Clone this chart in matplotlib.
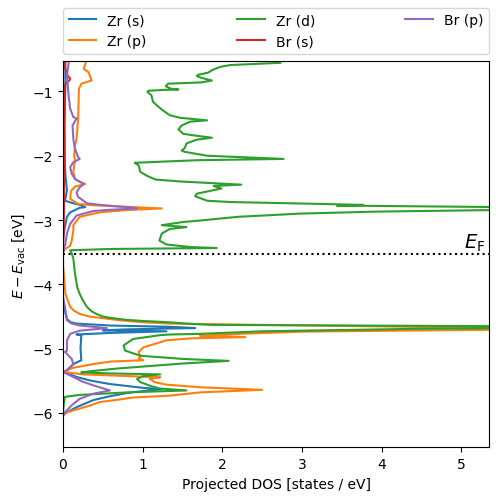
import matplotlib
matplotlib.use("Agg")
import matplotlib.pyplot as plt
import numpy as np

# Fermi level, eV relative to vacuum
e_fermi = -3.535

# projected DOS: (energy, states/eV) per orbital
zr_s_energy = [-0.53, -0.9, -1.5, -2.0, -2.3, -2.54, -2.70, -2.74, -2.77, -2.80, -2.81, -2.88, -2.95,
               -3.10, -3.3, -4.2, -4.30, -4.45, -4.54, -4.59, -4.61, -4.64, -4.66, -4.68, -4.70,
               -4.715, -4.73, -4.755, -4.78, -4.79, -5.00, -5.18, -5.24, -5.34, -5.37, -5.44,
               -5.50, -5.55, -5.61, -5.63, -5.66, -5.69, -5.75, -5.80, -5.91, -5.99, -6.03]
zr_s_dos = [0.03, 0.03, 0.02, 0.02, 0.03, 0.05, 0.025, 0.13, 0.23, 0.28, 0.21, 0.09, 0.05,
            0.025, 0.0, 0.0, 0.01, 0.03, 0.05, 0.10, 0.17, 0.59, 1.34, 1.66, 0.8,
            0.5, 1.3, 0.6, 0.17, 0.23, 0.22, 0.23, 0.13, 0.05, 0.03, 0.17,
            0.36, 0.59, 1.01, 1.24, 1.0, 0.8, 0.55, 0.38, 0.17, 0.05, 0.0]

zr_p_energy = [-0.53, -0.57, -0.65, -0.70, -0.83, -0.88, -0.96, -1.42, -1.74, -1.84, -2.00, -2.07,
               -2.25, -2.36, -2.40, -2.44, -2.48, -2.55, -2.67, -2.75, -2.77, -2.80, -2.82, -2.845,
               -2.88, -2.95, -3.08, -3.16, -3.32, -3.40, -3.45, -3.5, -3.7, -3.83, -4.15, -4.35,
               -4.41, -4.46, -4.50, -4.52, -4.56, -4.59, -4.61, -4.63, -4.67, -4.69, -4.71, -4.735,
               -4.78, -4.80, -4.82, -4.84, -4.87, -4.98, -5.05, -5.13, -5.15, -5.18, -5.20, -5.24,
               -5.30, -5.36, -5.40, -5.43, -5.445, -5.47, -5.52, -5.56, -5.60, -5.64, -5.68,
               -5.73, -5.76, -5.80, -5.83, -5.88, -5.96, -6.0, -6.05]
zr_p_dos = [0.29, 0.28, 0.26, 0.32, 0.36, 0.23, 0.20, 0.19, 0.17, 0.15, 0.14, 0.15,
            0.13, 0.15, 0.20, 0.28, 0.15, 0.10, 0.09, 0.19, 0.38, 0.9, 1.24, 0.8,
            0.46, 0.21, 0.13, 0.13, 0.11, 0.09, 0.03, 0.0, 0.0, 0.01, 0.03, 0.09,
            0.14, 0.21, 0.33, 0.46, 0.72, 1.01, 1.34, 2.47, 5.0, 8.0, 5.0, 3.0,
            2.0, 1.72, 2.29, 1.6, 1.30, 1.01, 0.95, 0.97, 0.95, 1.01, 0.6, 0.38,
            0.12, 0.0, 0.25, 0.9, 1.22, 1.09, 1.15, 1.30, 1.72, 2.50, 1.72,
            1.34, 0.88, 0.65, 0.46, 0.35, 0.13, 0.025, 0.0]

zr_d_energy = [-0.555, -0.59, -0.62, -0.67, -0.71, -0.74, -0.76, -0.79, -0.83, -0.86, -0.88, -0.92,
               -0.96, -0.97, -0.975, -0.99, -1.01, -1.06, -1.16, -1.22, -1.30, -1.37, -1.41, -1.45,
               -1.47, -1.53, -1.59, -1.66, -1.69, -1.72, -1.75, -1.81, -1.88, -1.92, -1.94, -2.00,
               -2.05, -2.07, -2.11, -2.15, -2.25, -2.31, -2.37, -2.40, -2.45, -2.47, -2.51, -2.59,
               -2.63, -2.70, -2.72, -2.755, -2.765, -2.775, -2.80, -2.82, -2.845, -2.87, -2.90,
               -2.95, -3.01, -3.03, -3.08, -3.11, -3.14, -3.21, -3.32, -3.38, -3.42, -3.435, -3.45,
               -3.47, -3.52, -3.60, -3.83, -4.05, -4.15, -4.25, -4.35, -4.42, -4.46, -4.50, -4.52,
               -4.55, -4.57, -4.59, -4.61, -4.63, -4.65, -4.665, -4.69, -4.73, -4.77, -4.78, -4.79,
               -4.85, -4.95, -5.03, -5.11, -5.16, -5.19, -5.23, -5.31, -5.35, -5.37, -5.385,
               -5.40, -5.43, -5.47, -5.52, -5.58, -5.62, -5.65, -5.68, -5.72, -5.75, -5.86, -6.0]
zr_d_dos = [2.73, 2.10, 1.97, 1.87, 1.82, 1.70, 1.68, 1.74, 1.87, 1.74, 1.32, 1.29,
            1.36, 1.45, 1.30, 1.07, 1.06, 1.11, 1.13, 1.18, 1.26, 1.34, 1.47, 1.81,
            1.60, 1.49, 1.45, 1.51, 1.68, 1.87, 1.68, 1.55, 1.53, 1.49, 1.53, 1.81,
            2.77, 1.68, 0.90, 0.95, 0.97, 1.05, 1.16, 1.47, 2.24, 1.89, 1.99, 1.68,
            1.66, 1.81, 2.10, 3.44, 3.77, 3.44, 5.6, 7.0, 5.4, 3.9, 2.98,
            2.2, 1.70, 1.51, 1.24, 1.55, 1.34, 1.24, 1.21, 1.30, 1.60, 1.93, 0.6,
            0.09, 0.11, 0.13, 0.15, 0.18, 0.21, 0.25, 0.30, 0.36, 0.42, 0.50, 0.59,
            0.78, 1.01, 1.34, 1.55, 1.85, 5.4, 7.0, 4.5, 2.5, 1.72, 1.34, 1.22,
            0.88, 0.76, 0.78, 0.97, 1.51, 2.08, 1.51, 0.67, 0.35, 0.23, 0.6,
            1.22, 1.0, 0.93, 0.97, 1.1, 1.22, 1.55, 0.8, 0.2, 0.025, 0.01, 0.0]

br_s_energy = [-0.53, -0.62, -0.76, -0.80, -0.83, -0.88, -1.0, -1.5, -2.0, -2.5, -3.0, -3.3, -3.5]
br_s_dos = [0.02, 0.02, 0.06, 0.09, 0.08, 0.03, 0.02, 0.015, 0.02, 0.015, 0.01, 0.005, 0.0]

br_p_energy = [-0.53, -0.57, -0.75, -1.06, -1.27, -1.40, -1.42, -1.53, -1.74, -1.89, -2.02, -2.05,
               -2.10, -2.18, -2.28, -2.36, -2.44, -2.49, -2.57, -2.64, -2.74, -2.77, -2.80, -2.82,
               -2.84, -2.86, -2.93, -3.06, -3.21, -3.37, -3.5, -4.2, -4.35, -4.56, -4.61, -4.64,
               -4.68, -4.72, -4.77, -4.87, -5.03, -5.05, -5.16, -5.24, -5.31, -5.37, -5.44, -5.51,
               -5.57, -5.65, -5.70, -5.78, -5.88, -5.99, -6.05]
br_p_dos = [0.07, 0.07, 0.05, 0.07, 0.09, 0.13, 0.17, 0.12, 0.13, 0.15, 0.19, 0.21,
            0.13, 0.09, 0.11, 0.15, 0.26, 0.21, 0.17, 0.19, 0.30, 0.51, 0.8, 0.93,
            0.6, 0.38, 0.17, 0.09, 0.05, 0.03, 0.0, 0.0, 0.025, 0.05, 0.11, 0.21,
            0.55, 0.21, 0.09, 0.05, 0.05, 0.025, 0.11, 0.13, 0.07, 0.01, 0.13, 0.24,
            0.38, 0.59, 0.38, 0.21, 0.11, 0.025, 0.0]

series = [("Zr (s)", zr_s_energy, zr_s_dos),
          ("Zr (p)", zr_p_energy, zr_p_dos),
          ("Zr (d)", zr_d_energy, zr_d_dos),
          ("Br (s)", br_s_energy, br_s_dos),
          ("Br (p)", br_p_energy, br_p_dos)]

fig = plt.figure(figsize=(4.98, 5.02), dpi=100)
ax = fig.add_axes([0.1265, 0.1068, 0.8555, 0.7687])

for label, energy, dos in series:
    ax.plot(dos, energy, label=label)

ax.axhline(e_fermi, color="k", linestyle=":", linewidth=1.5)
ax.text(5.3, e_fermi + 0.02, r"$E_\mathrm{F}$", ha="right", va="bottom", fontsize=14)

ax.set_xlim(0, 5.35)
ax.set_ylim(e_fermi - 3, e_fermi + 3)
ax.set_xlabel("Projected DOS [states / eV]")
ax.set_ylabel(r"$E - E_\mathrm{vac}$ [eV]")

ax.legend(bbox_to_anchor=(0, 1.02, 1, 0.102), loc="lower left", ncol=3,
          mode="expand", borderaxespad=0)

fig.savefig("out.png", dpi=100)
